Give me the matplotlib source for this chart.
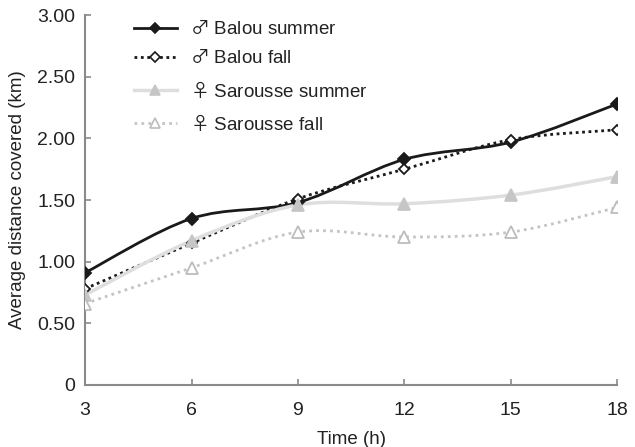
import numpy as np
import matplotlib
matplotlib.use("Agg")
import matplotlib.pyplot as plt
from matplotlib.path import Path
from matplotlib.patches import PathPatch
from matplotlib.lines import Line2D

plt.rcParams['font.family'] = ['Liberation Sans', 'Noto Sans CJK SC', 'DejaVu Sans']
# gender signs come from the CJK font through mathtext (bigger glyphs)
plt.rcParams['mathtext.fontset'] = 'custom'
plt.rcParams['mathtext.rm'] = 'Noto Sans CJK SC'

hours = [3, 6, 9, 12, 15, 18]
balou_summer = [0.91, 1.35, 1.48, 1.83, 1.97, 2.28]
balou_fall = [0.78, 1.15, 1.51, 1.75, 1.99, 2.07]
sarousse_summer = [0.73, 1.17, 1.46, 1.47, 1.54, 1.69]
sarousse_fall = [0.66, 0.95, 1.24, 1.20, 1.24, 1.44]

labels = ["$\\mathrm{\u2642}$ Balou summer", "$\\mathrm{\u2642}$ Balou fall",
          "$\\mathrm{\u2640}$ Sarousse summer", "$\\mathrm{\u2640}$ Sarousse fall"]
yticks = [0, 0.5, 1.0, 1.5, 2.0, 2.5, 3.0]
ytick_labels = ["0", "0.50", "1.00", "1.50", "2.00", "2.50", "3.00"]


def smooth_path(x, y):
    # catmull-rom -> cubic bezier segments, like Excel's smoothed lines
    p = np.column_stack([x, y]).astype(float)
    ext = np.vstack([p[0], p, p[-1]])
    verts = [p[0]]
    codes = [Path.MOVETO]
    for i in range(len(p) - 1):
        p0, p1, p2, p3 = ext[i], ext[i + 1], ext[i + 2], ext[i + 3]
        c1 = p1 + (p2 - p0) / 6.0
        c2 = p2 - (p3 - p1) / 6.0
        verts += [c1, c2, p2]
        codes += [Path.CURVE4] * 3
    return Path(verts, codes)


fig = plt.figure(figsize=(6.35, 4.47), dpi=100)
ax = fig.add_axes([0.134, 0.139, 0.838, 0.827])

styles = [
    dict(data=balou_summer, color="#1a1a1a", ls="-", lw=2.0, marker="D",
         mfc="#1a1a1a", mec="#1a1a1a", ms=6),
    dict(data=balou_fall, color="#1a1a1a", ls=(0, (1, 1.3)), lw=2.0, marker="D",
         mfc="white", mec="#1a1a1a", ms=5.5),
    dict(data=sarousse_summer, color="#dedede", ls="-", lw=2.5, marker="^",
         mfc="#c6c6c6", mec="#c6c6c6", ms=8),
    dict(data=sarousse_fall, color="#c4c4c4", ls=(0, (1, 1.5)), lw=2.0, marker="^",
         mfc="white", mec="#bcbcbc", ms=8),
]

handles = []
for st, lab in zip(styles, labels):
    patch = PathPatch(smooth_path(hours, st["data"]), fill=False,
                      edgecolor=st["color"], linewidth=st["lw"],
                      linestyle=st["ls"], zorder=2)
    ax.add_patch(patch)
    ax.plot(hours, st["data"], linestyle="none", marker=st["marker"],
            markersize=st["ms"], markerfacecolor=st["mfc"],
            markeredgecolor=st["mec"], markeredgewidth=1.3, zorder=3)
    handles.append(Line2D([], [], color=st["color"], linestyle=st["ls"],
                          linewidth=st["lw"], marker=st["marker"],
                          markersize=st["ms"] * 0.9, markerfacecolor=st["mfc"],
                          markeredgecolor=st["mec"], markeredgewidth=1.2))

ax.set_xlim(3, 18)
ax.set_ylim(0, 3)
ax.set_xticks(hours)
ax.set_yticks(yticks)
ax.set_yticklabels(ytick_labels)

for s in ["top", "right"]:
    ax.spines[s].set_visible(False)
for s in ["left", "bottom"]:
    ax.spines[s].set_color("#8a8a8a")
    ax.spines[s].set_linewidth(1.5)
ax.tick_params(direction="in", length=4, width=1.2, color="#8a8a8a",
               labelsize=14, labelcolor="#222222")
ax.tick_params(axis="x", pad=12)
ax.tick_params(axis="y", pad=7)

ax.set_xlabel("Time (h)", fontsize=13.5, color="#222222", labelpad=9)
ax.set_ylabel("Average distance covered (km)", fontsize=13.5, color="#222222",
              labelpad=8)

leg = ax.legend(handles, labels, loc="upper left", bbox_to_anchor=(0.06, 1.03),
                frameon=False, fontsize=13.5, handlelength=2.3,
                labelspacing=0.65, handletextpad=0.7)
for t in leg.get_texts():
    t.set_color("#222222")

fig.savefig("out.png", dpi=100)
